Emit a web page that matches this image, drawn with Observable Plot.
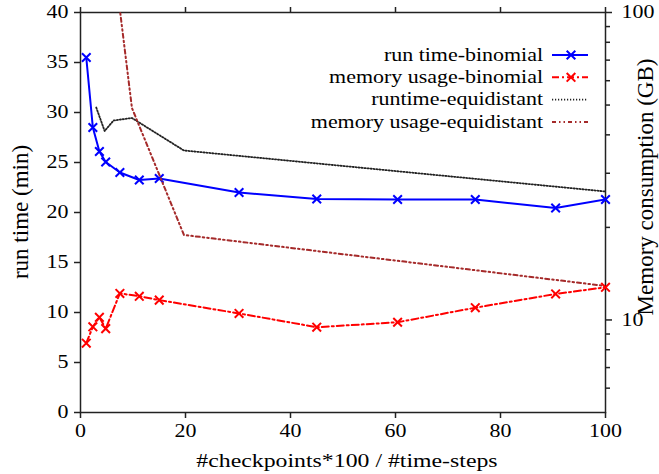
<!DOCTYPE html>
<html><head><meta charset="utf-8">
<script src="https://cdn.jsdelivr.net/npm/d3@7"></script>
<script src="https://cdn.jsdelivr.net/npm/@observablehq/plot@0.6"></script>
<style>
body{margin:0;background:#fff;}
#chart{position:relative;width:659px;height:474px;}
</style></head><body><div id="chart"></div>
<script>
// ---- data ----
const binomialX = [1.1, 2.35, 3.6, 4.8, 7.5, 11.2, 15, 30.2, 45, 60.4, 75.2, 90.5, 100];
const binomialRuntime = [35.5, 28.5, 26.1, 25.05, 24.0, 23.25, 23.4, 22.0, 21.35, 21.3, 21.3, 20.45, 21.3];
const binomialMemory = [8.4, 9.5, 10.2, 9.37, 12.2, 11.94, 11.6, 10.5, 9.47, 9.83, 10.96, 12.15, 12.77];
const equidistantX = [3.0, 4.6, 6.3, 9.8, 19.7, 100];
const equidistantRuntime = [30.5, 28.15, 29.2, 29.45, 26.2, 22.1];
const equidistantMemory = [400, 250, 150, 48.9, 18.9, 12.9];
const xTicks = [0, 20, 40, 60, 80, 100];
const yTicks = [0, 5, 10, 15, 20, 25, 30, 35, 40];
const memMajorTicks = [10, 100];
const memMinorTicks = [6, 7, 8, 9, 20, 30, 40, 50, 60, 70, 80, 90];
const seriesNames = ["run time-binomial", "memory usage-binomial", "runtime-equidistant", "memory usage-equidistant"];
const xLabel = "#checkpoints*100 / #time-steps";
const yLabel = "run time (min)";
const y2Label = "Memory consumption (GB)";

// ---- styles ----
const FONT = "'Liberation Serif', 'Times New Roman', serif";
const STRETCH = 1.22;
const styles = [
  {stroke: "#0000ff", strokeWidth: 2, dash: null, marker: true},
  {stroke: "#ff0000", strokeWidth: 2, dash: "7,3,2,3", marker: true},
  {stroke: "#222222", strokeWidth: 1.8, dash: "1.2,1.8", marker: false},
  {stroke: "#a52a2a", strokeWidth: 2, dash: "4,3,1.5,3,1.5,3", marker: false}
];

const rows = (xs, ys) => xs.map((x, i) => ({x, y: ys[i]}));
const runBin = rows(binomialX, binomialRuntime);
const memBin = rows(binomialX, binomialMemory);
const runEq = rows(equidistantX, equidistantRuntime);
const memEq = rows(equidistantX, equidistantMemory);

const W = 659, H = 474;
const common = {
  width: W, height: H,
  marginTop: 12, marginRight: 54, marginBottom: 62, marginLeft: 80,
  style: {fontFamily: FONT, fontSize: "18px", background: "transparent", color: "black", overflow: "visible"}
};

const p1 = Plot.plot({
  ...common,
  x: {domain: [0, 100]},
  y: {domain: [0, 40]},
  marks: [
    Plot.axisX({anchor: "bottom", ticks: xTicks, tickSize: 6, tickPadding: 6, label: null, tickFormat: d => String(d), stroke: "#222", strokeWidth: 1.5}),
    Plot.axisX({anchor: "top", ticks: xTicks, tickSize: 6, label: null, tickFormat: () => "", stroke: "#222", strokeWidth: 1.5}),
    Plot.axisY({anchor: "left", ticks: yTicks, tickSize: 6, tickPadding: 6, label: null, tickFormat: d => String(d), stroke: "#222", strokeWidth: 1.5}),
    Plot.frame({stroke: "#222", strokeWidth: 1.5}),
    Plot.line(runEq, {x: "x", y: "y", stroke: styles[2].stroke, strokeWidth: styles[2].strokeWidth, strokeDasharray: styles[2].dash, clip: true}),
    Plot.line(runBin, {x: "x", y: "y", stroke: styles[0].stroke, strokeWidth: styles[0].strokeWidth, clip: true}),
    Plot.dot(runBin, {x: "x", y: "y", symbol: "times", r: 4, stroke: styles[0].stroke, strokeWidth: 2})
  ]
});

const p2 = Plot.plot({
  ...common,
  x: {domain: [0, 100], axis: null},
  y: {type: "log", domain: [5, 100]},
  marks: [
    Plot.axisY({anchor: "right", ticks: memMajorTicks, tickSize: 6, tickPadding: 10, label: null, tickFormat: d => String(d), stroke: "#222", strokeWidth: 1.5}),
    Plot.axisY({anchor: "right", ticks: memMinorTicks, tickSize: 4, label: null, tickFormat: () => "", stroke: "#222", strokeWidth: 1.5}),
    Plot.line(memEq, {x: "x", y: "y", stroke: styles[3].stroke, strokeWidth: styles[3].strokeWidth, strokeDasharray: styles[3].dash, clip: true}),
    Plot.line(memBin, {x: "x", y: "y", stroke: styles[1].stroke, strokeWidth: styles[1].strokeWidth, strokeDasharray: styles[1].dash, clip: true}),
    Plot.dot(memBin, {x: "x", y: "y", symbol: "times", r: 4, stroke: styles[1].stroke, strokeWidth: 2})
  ]
});

// merge the log-scale layer into the first svg
for (const n of [...p2.childNodes]) p1.appendChild(n);

const svg = d3.select(p1);

// horizontally stretch labels to match the reference's wide serif glyphs
function stretch(t, s) {
  const x = parseFloat(t.getAttribute("x")) || 0;
  const tr = t.getAttribute("transform") || "";
  t.setAttribute("transform", `${tr} translate(${x},0) scale(${s},1) translate(${-x},0)`);
}
p1.querySelectorAll("text").forEach(t => { if (t.textContent !== "") stretch(t, STRETCH); });

// axis titles
const ml = 80, mr = 54, mt = 12, mb = 62;
const xl = svg.append("text").attr("x", 347).attr("y", 467).attr("text-anchor", "middle")
  .attr("font-family", FONT).attr("font-size", 19.5).attr("fill", "black").text(xLabel);
stretch(xl.node(), STRETCH);
svg.append("text").attr("transform", `translate(28,${(mt + H - mb) / 2}) rotate(-90)`)
  .attr("text-anchor", "middle").attr("font-family", FONT).attr("font-size", 23).attr("fill", "black").text(yLabel);
svg.append("text").attr("transform", `translate(653,187) rotate(-90)`)
  .attr("text-anchor", "middle").attr("font-family", FONT).attr("font-size", 23).attr("fill", "black").text(y2Label);

// legend
const lg = svg.append("g");
seriesNames.forEach((name, i) => {
  const yy = 55 + 22.3 * i;
  const st = styles[i];
  const t = lg.append("text").attr("x", 543).attr("y", yy).attr("dy", "0.32em").attr("text-anchor", "end")
    .attr("font-family", FONT).attr("font-size", 18).attr("fill", "black").text(name);
  stretch(t.node(), STRETCH);
  lg.append("line").attr("x1", 552).attr("x2", 588).attr("y1", yy).attr("y2", yy)
    .attr("stroke", st.stroke).attr("stroke-width", st.strokeWidth).attr("stroke-dasharray", st.dash);
  if (st.marker) {
    lg.append("path").attr("transform", `translate(571,${yy})`).attr("d", d3.symbol(d3.symbolTimes, 16 * Math.PI)())
      .attr("fill", "none").attr("stroke", st.stroke).attr("stroke-width", 2);
  }
});

document.getElementById("chart").appendChild(p1);
</script></body></html>
